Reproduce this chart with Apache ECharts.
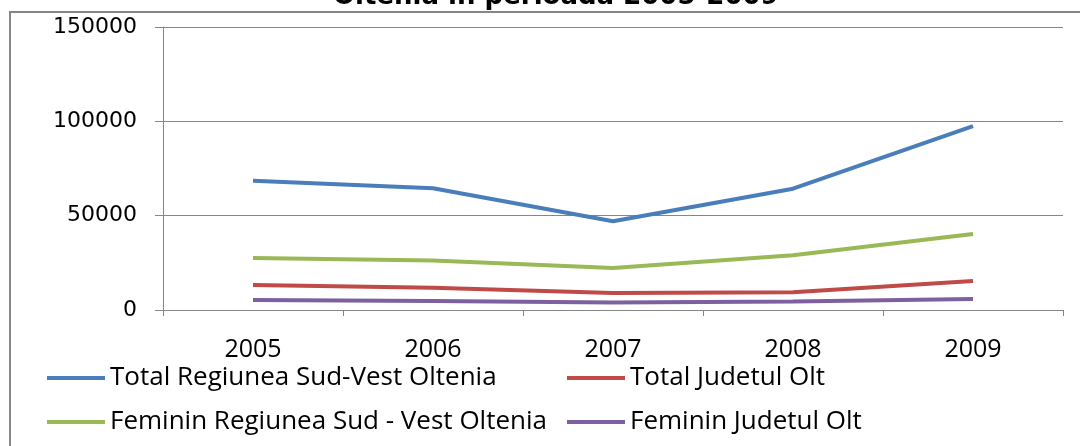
<!DOCTYPE html>
<html>
<head>
<meta charset="utf-8">
<script src="https://cdn.jsdelivr.net/npm/echarts@6/dist/echarts.min.js"></script>
<style>
html, body { margin: 0; padding: 0; background: #fff; }
#chart_line { width: 1080px; height: 446px; }
</style>
</head>
<body>
<div id="chart_line"></div>
<script>
// date
var years = ['2005', '2006', '2007', '2008', '2009'];
var totalRegiune = [68500, 64500, 47000, 64300, 97500];
var totalOlt = [13200, 11800, 9000, 9400, 15400];
var femininRegiune = [27600, 26300, 22200, 29000, 40300];
var femininOlt = [5300, 4800, 4000, 4500, 5800];
var seriesNames = [
    'Total Regiunea Sud-Vest Oltenia',
    'Total Judetul Olt',
    'Feminin Regiunea Sud - Vest Oltenia',
    'Feminin Judetul Olt'
];
var colors = ['#4A7EBB', '#BE4B48', '#98B954', '#7D60A0'];

var myChart = echarts.init(document.getElementById('chart_line'));

function lineSerie(i, data) {
    return {
        name: seriesNames[i],
        type: 'line',
        data: data,
        symbol: 'none',
        color: colors[i],
        lineStyle: { width: 4, color: colors[i] }
    };
}

var legendText = { fontFamily: 'Open Sans', fontSize: 26, color: '#000' };

var option = {
    animation: false,
    backgroundColor: '#fff',
    title: {
        text: 'Oltenia în perioada 2005-2009',
        left: 328,
        top: -21,
        textStyle: { fontFamily: 'DejaVu Sans', fontWeight: 'bold', fontSize: 26, color: '#000' }
    },
    graphic: [{
        type: 'rect',
        shape: { x: 10, y: 12, width: 1100, height: 500 },
        style: { fill: 'none', stroke: '#868686', lineWidth: 2 },
        silent: true
    }],
    legend: [{
        orient: 'vertical',
        left: 42,
        top: 360,
        itemWidth: 58,
        itemHeight: 4,
        itemGap: 18,
        icon: 'rect',
        data: [seriesNames[0], seriesNames[2]],
        textStyle: legendText
    }, {
        orient: 'vertical',
        left: 562,
        top: 360,
        itemWidth: 58,
        itemHeight: 4,
        itemGap: 18,
        icon: 'rect',
        data: [seriesNames[1], seriesNames[3]],
        textStyle: legendText
    }],
    grid: { left: 163, right: 17, top: 27, bottom: 136 },
    xAxis: {
        type: 'category',
        data: years,
        boundaryGap: true,
        axisLine: { lineStyle: { color: '#868686', width: 1 } },
        axisTick: { show: true, length: 6, lineStyle: { color: '#868686' } },
        axisLabel: { margin: 27, fontFamily: 'Open Sans', fontSize: 25, color: '#000' }
    },
    yAxis: {
        type: 'value',
        min: 0,
        max: 150000,
        interval: 50000,
        axisLine: { show: true, lineStyle: { color: '#868686', width: 1 } },
        axisTick: { show: true, length: 8, lineStyle: { color: '#868686' } },
        splitLine: { lineStyle: { color: '#868686', width: 1 } },
        axisLabel: {
            margin: 26,
            fontFamily: 'DejaVu Sans',
            fontSize: 22,
            color: '#000',
            formatter: function (v) { return String(v); }
        }
    },
    series: [
        lineSerie(0, totalRegiune),
        lineSerie(1, totalOlt),
        lineSerie(2, femininRegiune),
        lineSerie(3, femininOlt)
    ]
};

myChart.setOption(option);
</script>
</body>
</html>
